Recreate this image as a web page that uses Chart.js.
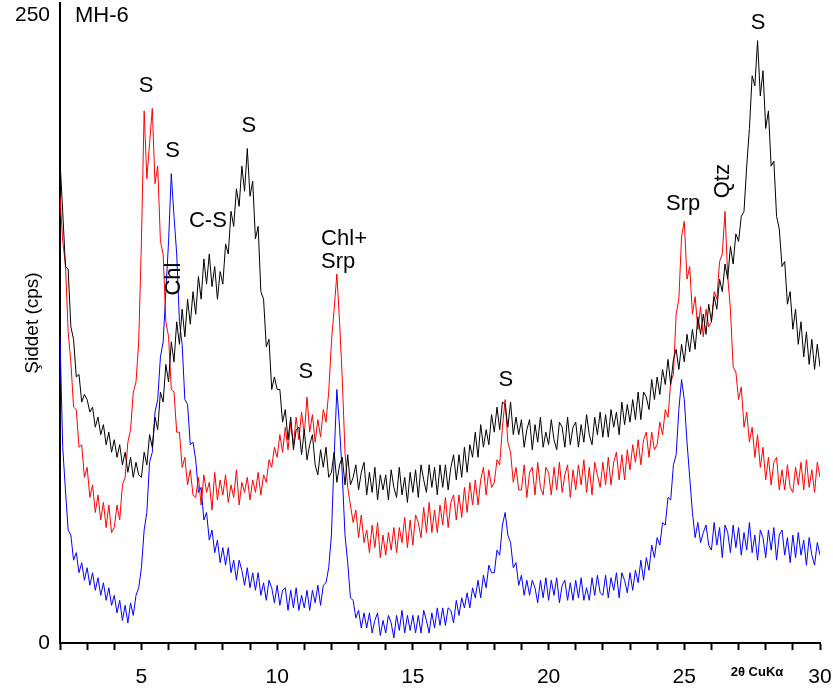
<!DOCTYPE html>
<html>
<head>
<meta charset="utf-8">
<script src="https://cdn.jsdelivr.net/npm/chart.js@4.4.1/dist/chart.umd.min.js"></script>
<style>
  html, body { margin: 0; padding: 0; background: #fff; }
  canvas { display: block; }
</style>
</head>
<body>
<canvas id="xrdChart" width="833" height="695"></canvas>
<script>
// scan: 2-30 degrees 2theta, 0.1 degree step
const twoThetaStart = 2;
const twoThetaStep = 0.1;

const blackCounts = [
  192,172,150,149,126,121,106,107,96,99,      // 2
  97,92,94,86,90,83,87,79,84,76,              // 3
  81,74,79,71,76,68,74,66,72,67,              // 4
  66,76,71,83,78,90,85,100,96,111,            // 5
  104,120,112,128,119,133,122,137,127,140,    // 6
  131,146,137,153,143,155,142,150,137,148,    // 7
  143,159,155,172,166,181,174,190,180,197,    // 8
  178,184,161,166,140,137,118,121,101,106,    // 9
  101,101,88,93,81,90,77,85,86,75,            // 10
  85,73,79,83,71,67,77,70,78,66,              // 11
  68,76,64,71,74,63,75,63,66,71,              // 12
  61,68,72,59,68,60,70,57,67,61,              // 13
  67,57,69,62,58,70,59,66,56,68,              // 14
  60,69,58,71,65,60,71,62,70,59,              // 15
  71,62,71,61,70,75,65,75,66,78,              // 16
  68,79,74,84,74,87,78,85,79,91,              // 17
  84,94,85,96,95,86,96,83,90,83,              // 18
  89,78,85,89,77,87,80,90,78,84,              // 19
  79,89,81,77,88,86,78,90,79,86,              // 20
  88,78,87,80,91,83,79,90,83,92,              // 21
  82,91,82,93,86,92,83,96,87,95,              // 22
  88,97,89,100,89,100,98,93,105,97,           // 23
  106,99,109,103,113,103,113,117,109,119,     // 24
  112,123,116,125,117,130,123,131,123,135,    // 25
  128,138,133,145,140,151,145,158,151,163,    // 26
  160,170,172,190,205,226,222,240,218,228,    // 27
  205,212,190,192,170,165,150,152,135,140,    // 28
  125,133,119,128,114,124,111,121,109,119,    // 29
  110                                         // 30
];

const redCounts = [
  178,160,151,124,112,94,93,78,79,66,         // 2
  70,58,63,52,59,49,56,46,55,44,              // 3
  46,55,49,63,66,80,85,100,104,120,           // 4
  160,212,185,199,213,183,190,160,155,128,    // 5
  122,101,100,84,84,70,74,63,69,59,           // 6
  58,66,55,67,60,64,53,68,57,65,              // 7
  59,67,56,63,58,69,55,64,60,66,              // 8
  57,65,60,68,59,67,64,73,70,78,              // 9
  74,83,76,86,77,88,79,90,81,92,              // 10
  83,98,84,91,80,89,82,93,88,100,             // 11
  120,133,147,128,105,76,62,55,48,53,         // 12
  42,51,40,45,36,47,38,48,34,43,              // 13
  35,44,37,46,36,46,40,50,38,49,              // 14
  39,51,48,42,54,44,56,44,53,44,              // 15
  55,47,58,46,56,59,49,59,50,62,              // 16
  52,64,55,65,55,65,70,59,69,62,              // 17
  64,73,71,86,97,80,76,64,70,61,              // 18
  61,71,58,68,70,59,72,62,59,70,              // 19
  68,59,70,61,72,60,67,71,58,69,              // 20
  61,71,63,73,60,70,59,72,67,62,              // 21
  72,63,74,63,72,76,65,75,65,77,              // 22
  69,79,72,81,71,81,84,74,84,77,              // 23
  79,88,83,93,90,104,107,131,137,162,         // 24
  168,145,150,131,138,125,134,122,133,126,    // 25
  128,140,137,152,155,172,146,133,110,108,    // 26
  97,102,86,92,80,86,74,83,70,78,             // 27
  65,74,63,72,74,61,69,61,71,62,              // 28
  60,70,63,72,61,73,62,69,60,72,              // 29
  66                                          // 30
];

const blueCounts = [
  122,78,61,45,43,33,36,28,32,25,             // 2
  30,23,28,21,26,19,24,17,22,15,              // 3
  19,12,17,9,15,8,16,11,19,22,                // 4
  30,45,52,72,76,92,97,114,120,140,           // 5
  160,187,170,155,128,119,97,95,79,80,        // 6
  73,60,62,49,52,41,45,36,41,32,              // 7
  38,31,38,28,33,25,33,29,23,30,              // 8
  22,28,21,28,19,24,17,25,22,16,              // 9
  23,15,21,22,13,21,14,22,13,19,              // 10
  14,21,13,21,16,23,15,23,24,30,              // 11
  43,74,101,86,67,43,32,18,17,10,             // 12
  13,6,12,6,12,4,9,12,3,9,                    // 13
  4,11,8,2,11,5,13,4,11,5,                    // 14
  11,4,11,4,13,9,4,12,6,14,                   // 15
  7,14,7,14,13,8,17,11,18,14,                 // 16
  20,14,22,18,25,18,27,22,31,28,              // 17
  28,37,35,47,52,43,40,30,32,23,              // 18
  27,19,25,19,25,22,16,25,18,26,              // 19
  17,25,19,26,16,23,25,17,24,17,              // 20
  25,18,26,17,22,17,26,19,27,20,              // 21
  19,27,18,26,21,28,18,28,25,20,              // 22
  28,21,29,24,33,25,34,29,39,34,              // 23
  42,39,48,47,58,57,71,75,93,105,             // 24
  97,80,66,52,42,48,40,44,47,39,              // 25
  37,48,39,46,34,47,44,36,47,38,              // 26
  46,35,44,37,48,36,43,33,45,42,              // 27
  34,45,37,46,33,43,45,35,42,32,              // 28
  43,34,44,35,41,31,42,35,31,40,              // 29
  35                                          // 30
];

const xTickValues = [5, 10, 15, 20, 25, 30];
const yTickValues = [0, 250];

// phase labels, placed in data units (2theta, cps)
const peakLabels = [
  { text: 'S',    x: 5.17,  y: 222 },
  { text: 'S',    x: 6.15,  y: 196 },
  { text: 'S',    x: 8.96,  y: 206 },
  { text: 'C-S',  x: 7.45,  y: 168 },
  { text: 'Chl',  x: 6.2,   y: 145, rotate: true },
  { text: 'Chl+', x: 11.62, y: 161, align: 'left' },
  { text: 'Srp',  x: 11.62, y: 152, align: 'left' },
  { text: 'S',    x: 11.06, y: 108 },
  { text: 'S',    x: 18.43, y: 105 },
  { text: 'Srp',  x: 24.96, y: 175 },
  { text: 'Qtz',  x: 26.43, y: 184, rotate: true },
  { text: 'S',    x: 27.72, y: 247 }
];

const FONT = '"Liberation Sans", Arial, sans-serif';

function toPoints(counts) {
  return counts.map((v, i) => ({ x: +(twoThetaStart + i * twoThetaStep).toFixed(1), y: v }));
}

const labelPlugin = {
  id: 'peakLabels',
  afterDraw(chart) {
    const { ctx, chartArea } = chart;
    const xs = chart.scales.x, ys = chart.scales.y;
    ctx.save();
    ctx.fillStyle = '#000';
    ctx.textBaseline = 'middle';
    ctx.font = '22px ' + FONT;
    peakLabels.forEach(l => {
      ctx.save();
      ctx.translate(xs.getPixelForValue(l.x), ys.getPixelForValue(l.y));
      if (l.rotate) ctx.rotate(-Math.PI / 2);
      ctx.textAlign = l.align || 'center';
      ctx.fillText(l.text, 0, 0);
      ctx.restore();
    });

    // sample name
    ctx.textAlign = 'left';
    ctx.fillText('MH-6', chartArea.left + 15, 16);

    // y title
    ctx.save();
    ctx.translate(chartArea.left - 27, (chartArea.top + chartArea.bottom) / 2);
    ctx.rotate(-Math.PI / 2);
    ctx.textAlign = 'center';
    ctx.font = '19px ' + FONT;
    ctx.fillText('Şiddet (cps)', 0, 0);
    ctx.restore();

    // x title
    ctx.textAlign = 'center';
    ctx.font = 'bold 13px ' + FONT;
    ctx.fillText('2θ CuKα', xs.getPixelForValue(27.68), chartArea.bottom + 29);
    ctx.restore();
  }
};

new Chart(document.getElementById('xrdChart').getContext('2d'), {
  type: 'line',
  data: {
    datasets: [
      { label: 'black', data: toPoints(blackCounts), borderColor: '#000000' },
      { label: 'red',   data: toPoints(redCounts),   borderColor: '#ff0000' },
      { label: 'blue',  data: toPoints(blueCounts),  borderColor: '#0000ff' }
    ]
  },
  options: {
    responsive: false,
    animation: false,
    elements: {
      line: { borderWidth: 1, tension: 0, fill: false },
      point: { radius: 0 }
    },
    layout: { padding: { top: 3, right: 13, left: 0, bottom: 0 } },
    plugins: {
      legend: { display: false },
      tooltip: { enabled: false }
    },
    scales: {
      x: {
        type: 'linear',
        min: 2,
        max: 30,
        afterFit(scale) {
          scale.height = 52;
          scale.paddingLeft = 0;
          scale.paddingRight = 0;
        },
        grid: {
          drawOnChartArea: false,
          drawTicks: true,
          tickLength: 7,
          tickWidth: 2,
          tickColor: '#000'
        },
        border: { display: true, color: '#000', width: 2 },
        ticks: {
          stepSize: 1,
          autoSkip: false,
          maxRotation: 0,
          padding: 15,
          color: '#000',
          font: { family: FONT, size: 21 },
          callback: (v) => xTickValues.includes(v) ? String(v) : ''
        }
      },
      y: {
        min: 0,
        max: 255,
        afterFit(scale) {
          scale.width = 60;
          scale.paddingTop = 0;
          scale.paddingBottom = 0;
        },
        afterBuildTicks(scale) {
          scale.ticks = yTickValues.map(v => ({ value: v }));
        },
        grid: { display: false, drawTicks: false },
        border: { display: true, color: '#000', width: 2 },
        ticks: {
          padding: 10,
          color: '#000',
          font: { family: FONT, size: 21 }
        }
      }
    }
  },
  plugins: [labelPlugin]
});
</script>
</body>
</html>
